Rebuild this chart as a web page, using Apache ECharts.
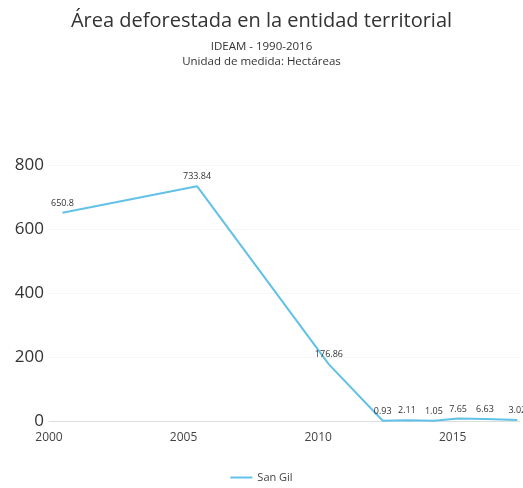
<!DOCTYPE html>
<html><head><meta charset="utf-8">
<script src="https://cdn.jsdelivr.net/npm/echarts@6/dist/echarts.min.js"></script>
<style>html,body{margin:0;padding:0;background:#fff}#c{width:523px;height:488px}</style>
</head><body><div id="c"></div>
<script>
const seriesName = "San Gil";
const years = [2000.5, 2005.5, 2010.4, 2012.4, 2013.3, 2014.3, 2015.2, 2016.2, 2017.4];
const values = [650.8, 733.84, 176.86, 0.93, 2.11, 1.05, 7.65, 6.63, 3.02];
const xTicks = [2000, 2005, 2010, 2015];
const yTicks = [0, 200, 400, 600, 800];

const chart = echarts.init(document.getElementById('c'), null, {renderer: 'canvas'});
const FONT = '"Open Sans", "Noto Sans", sans-serif';
const LINE = '#62c1e6';
chart.setOption({
  animation: false,
  backgroundColor: '#fff',
  title: [
    {text: 'Área deforestada en la entidad territorial', left: 'center', top: 6,
     textStyle: {fontFamily: FONT, fontSize: 20, fontWeight: 'normal', color: '#333'}},
    {text: 'IDEAM - 1990-2016', left: 'center', top: 36,
     textStyle: {fontFamily: FONT, fontSize: 11.5, fontWeight: 'normal', color: '#333'}},
    {text: 'Unidad de medida: Hectáreas', left: 'center', top: 51,
     textStyle: {fontFamily: FONT, fontSize: 11.5, fontWeight: 'normal', color: '#333'}}
  ],
  legend: {
    bottom: 0, left: 'center', itemWidth: 22, itemHeight: 2, icon: 'rect',
    itemStyle: {color: LINE, opacity: 1},
    textStyle: {fontFamily: FONT, fontSize: 11, color: '#444'},
    data: [seriesName]
  },
  grid: {left: 49, right: 3, top: 165, bottom: 67, containLabel: false},
  xAxis: {
    type: 'value', min: 2000, max: 2017.5, interval: 5,
    axisLine: {show: true, lineStyle: {color: '#ddd'}},
    axisTick: {show: false},
    splitLine: {show: false},
    axisLabel: {
      fontFamily: FONT, fontSize: 12, color: '#444', margin: 11, showMaxLabel: false,
      formatter: v => xTicks.includes(v) ? String(v) : ''
    }
  },
  yAxis: {
    type: 'value', min: 0, max: 800, interval: 200,
    axisLine: {show: false}, axisTick: {show: false},
    splitLine: {show: true, lineStyle: {color: '#eee', type: 'dotted'}},
    axisLabel: {fontFamily: FONT, fontSize: 17, color: '#333', margin: 5,
      formatter: v => yTicks.includes(v) ? String(v) : ''}
  },
  series: [{
    name: seriesName, type: 'line',
    data: years.map((y, i) => [y, values[i]]),
    showSymbol: true, symbol: 'circle', symbolSize: 0.01,
    lineStyle: {color: LINE, width: 2},
    itemStyle: {color: LINE},
    label: {show: true, position: 'top', distance: 5, fontFamily: FONT, fontSize: 9, color: '#333',
      formatter: p => String(p.value[1])}
  }]
});
</script></body></html>
